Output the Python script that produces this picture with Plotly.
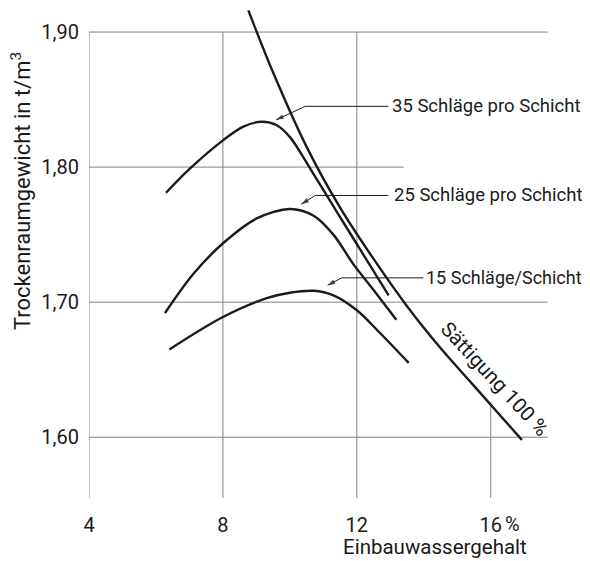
import plotly.graph_objects as go

# ---- data ----
x_35 = [6.30, 7.02, 8.01, 8.61, 9.16, 9.61, 10.01, 10.63, 11.50, 12.20, 12.95]
y_35 = [1.781, 1.799, 1.820, 1.830, 1.8336, 1.831, 1.822, 1.798, 1.763, 1.735, 1.705]

x_25 = [6.27, 7.12, 8.02, 9.01, 10.01, 10.71, 11.30, 11.90, 12.50, 13.18]
y_25 = [1.692, 1.721, 1.744, 1.762, 1.769, 1.764, 1.750, 1.728, 1.709, 1.687]

x_15 = [6.40, 8.00, 9.31, 10.00, 10.71, 11.30, 12.00, 12.70, 13.55]
y_15 = [1.665, 1.689, 1.703, 1.707, 1.7084, 1.705, 1.694, 1.677, 1.655]

x_sat = [8.76, 9.50, 10.50, 11.50, 12.50, 13.50, 14.50, 15.50, 16.93]
y_sat = [1.916, 1.870, 1.815, 1.770, 1.732, 1.697, 1.666, 1.638, 1.598]

labels = ["35 Schläge pro Schicht", "25 Schläge pro Schicht", "15 Schläge/Schicht"]
sat_label = "Sättigung 100 %"

x_ticks = [4, 8, 12, 16]
x_ticktext = ["4", "8", "12", "16"]
y_ticks = [1.60, 1.70, 1.80, 1.90]
y_ticktext = ["1,60", "1,70", "1,80", "1,90"]

x_title = "Einbauwassergehalt"
y_title = "Trockenraumgewicht in t/m<sup>3</sup>"

# ---- layout helpers ----
X_RANGE = [4, 17.8]
Y_RANGE = [1.555, 1.9178]
FONT = "Roboto, Liberation Sans, sans-serif"
INK = "#1a1a1a"
GRID = "#808080"

# grid extents (where the printed grid lines stop)
vgrid_top = [1.90, 1.90, 1.90, 1.626]
hgrid_right = [17.7, 17.7, 13.4, 17.7]

# leader lines: arrow tip, bend, end of horizontal, label start, label size
tips = [(9.59, 1.835), (10.34, 1.7725), (11.13, 1.7125)]
bends = [(10.46, 1.845), (10.76, 1.779), (11.55, 1.718)]
lead_end = [12.94, 12.94, 13.99]
label_x = [13.00, 13.06, 14.01]
label_size = [18.5, 18.5, 18]

fig = go.Figure()

shapes = []
for xv, top in zip(x_ticks, vgrid_top):
    shapes.append(dict(type="line", xref="x", yref="y", x0=xv, x1=xv,
                       y0=Y_RANGE[0], y1=top, line=dict(color=GRID, width=1), layer="below"))
for yv, right in zip(y_ticks, hgrid_right):
    shapes.append(dict(type="line", xref="x", yref="y", x0=4, x1=right,
                       y0=yv, y1=yv, line=dict(color=GRID, width=1), layer="below"))

for xs, ys in [(x_35, y_35), (x_25, y_25), (x_15, y_15), (x_sat, y_sat)]:
    fig.add_trace(go.Scatter(x=xs, y=ys, mode="lines", cliponaxis=False,
                             line=dict(color=INK, width=2.4, shape="spline", smoothing=0.9),
                             hoverinfo="skip", showlegend=False))

annotations = []
for (tx, ty), (bx, by), le, lx, txt, fs in zip(tips, bends, lead_end, label_x, labels, label_size):
    # leader: label end -> bend -> arrow tip (arrowhead marker on the last point)
    fig.add_trace(go.Scatter(x=[le, bx, tx], y=[by, by, ty], mode="lines+markers",
                             line=dict(color=INK, width=1),
                             marker=dict(symbol="arrow", size=[0, 0, 8], color=INK,
                                         angleref="previous", line=dict(width=0)),
                             hoverinfo="skip", showlegend=False))
    annotations.append(dict(x=lx, y=by, xref="x", yref="y", text=txt, showarrow=False,
                            xanchor="left", yanchor="middle",
                            font=dict(family=FONT, size=fs, color=INK)))

annotations.append(dict(x=16.12, y=1.643, xref="x", yref="y", text=sat_label,
                        showarrow=False, textangle=47,
                        font=dict(family=FONT, size=20.5, color=INK)))
annotations.append(dict(x=16, y=0, xref="x", yref="paper", text="%", showarrow=False,
                        xanchor="left", yanchor="top", xshift=12, yshift=-12,
                        font=dict(family=FONT, size=20, color=INK)))
annotations.append(dict(x=14.34, y=-0.1006, xref="x", yref="paper", text=x_title,
                        showarrow=False, xanchor="center", yanchor="middle",
                        font=dict(family=FONT, size=20.5, color=INK)))
annotations.append(dict(x=-0.1473, y=0.6263, xref="paper", yref="paper", text=y_title,
                        showarrow=False, textangle=-90, xanchor="center", yanchor="middle",
                        font=dict(family=FONT, size=22, color=INK)))

fig.update_layout(
    template="none",
    width=582, height=553,
    margin=dict(l=81, r=39.39, t=0, b=63.25, pad=0),
    paper_bgcolor="white", plot_bgcolor="white",
    shapes=shapes, annotations=annotations, showlegend=False,
    xaxis=dict(range=X_RANGE, tickmode="array", tickvals=x_ticks, ticktext=x_ticktext,
               showgrid=False, zeroline=False, showline=False, ticks="",
               ticklabelstandoff=13, automargin=False,
               tickfont=dict(family=FONT, size=20, color=INK)),
    yaxis=dict(range=Y_RANGE, tickmode="array", tickvals=y_ticks, ticktext=y_ticktext,
               showgrid=False, zeroline=False, showline=False, ticks="",
               ticklabelstandoff=9, automargin=False,
               tickfont=dict(family=FONT, size=20, color=INK)),
)

fig.write_html("out.html")
